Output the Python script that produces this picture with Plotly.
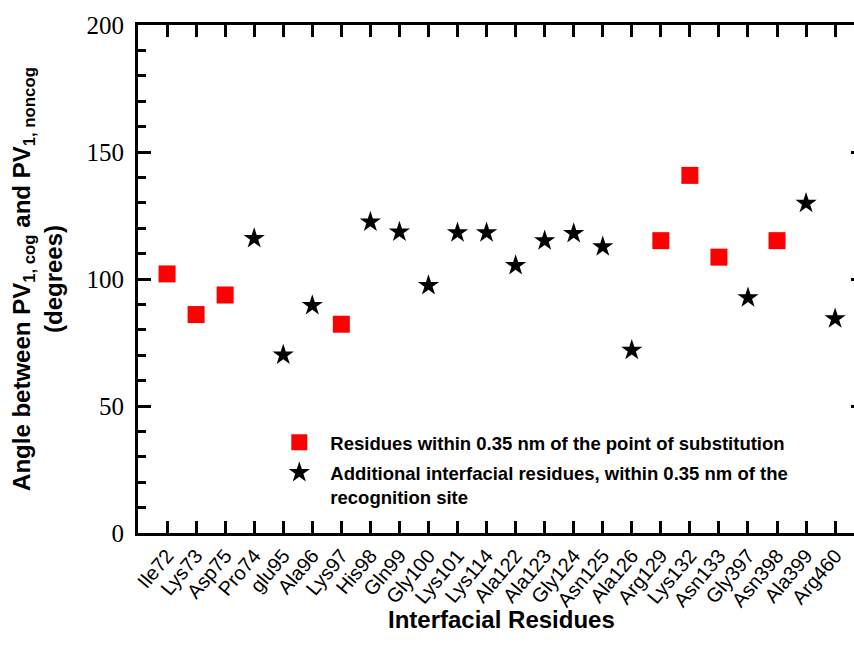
import plotly.graph_objects as go

residues = ["Ile72", "Lys73", "Asp75", "Pro74", "glu95", "Ala96", "Lys97", "His98",
            "Gln99", "Gly100", "Lys101", "Lys114", "Ala122", "Ala123", "Gly124",
            "Asn125", "Ala126", "Arg129", "Lys132", "Asn133", "Gly397", "Asn398",
            "Ala399", "Arg460"]
angles = [102.0, 86.0, 93.7, 116.0, 70.1, 89.6, 82.2, 122.5,
          118.5, 97.5, 118.2, 118.2, 105.3, 115.1, 117.9,
          112.7, 72.0, 115.1, 140.8, 108.6, 92.6, 115.1,
          129.8, 84.4]
# 1 = within 0.35 nm of point of substitution, 0 = additional interfacial residue
substitution_site = [1, 1, 1, 0, 0, 0, 1, 0,
                     0, 0, 0, 0, 0, 0, 0,
                     0, 0, 1, 1, 1, 0, 1,
                     0, 0]

name_sub = "Residues within 0.35 nm of the point of substitution"
name_add = "Additional interfacial residues, within 0.35 nm of the<br>recognition site"

y_ticks = [0, 50, 100, 150, 200]

xs_sub = [r for r, s in zip(residues, substitution_site) if s == 1]
ys_sub = [a for a, s in zip(angles, substitution_site) if s == 1]
xs_add = [r for r, s in zip(residues, substitution_site) if s == 0]
ys_add = [a for a, s in zip(angles, substitution_site) if s == 0]

fig = go.Figure()
fig.add_trace(go.Scatter(
    x=xs_sub, y=ys_sub, mode="markers", name=name_sub, legendgroup="sub",
    marker=dict(symbol="square", size=17, color="#FF0000", line=dict(width=0)),
))
fig.add_trace(go.Scatter(
    x=xs_add, y=ys_add, mode="markers", name=name_add, legendgroup="add",
    marker=dict(symbol="star", size=16, color="black", line=dict(width=0)),
))
# invisible trace for right-side tick remnants
fig.add_trace(go.Scatter(x=[residues[0]], y=[None], yaxis="y2", showlegend=False,
                         hoverinfo="skip", mode="markers"))

fig.update_layout(
    width=854, height=656,
    margin=dict(l=138, r=0, t=25, b=123),
    paper_bgcolor="white", plot_bgcolor="white",
    font=dict(family="Liberation Sans, Arial", color="black"),
    xaxis=dict(
        type="category", categoryorder="array", categoryarray=residues,
        range=[-1, 23.65], showgrid=False, zeroline=False,
        showline=True, linewidth=3, linecolor="black", mirror="ticks",
        ticks="inside", ticklen=12, tickwidth=3, tickcolor="black",
        tickangle=-50, tickfont=dict(family="Liberation Sans, Arial", size=20),
    ),
    yaxis=dict(
        range=[0, 200], tickvals=y_ticks, showgrid=False, zeroline=False,
        showline=True, linewidth=3, linecolor="black",
        ticks="inside", ticklen=13, tickwidth=3, tickcolor="black",
        minor=dict(ticks="inside", ticklen=8, tickwidth=3, dtick=10, tickcolor="black", showgrid=False),
        tickfont=dict(family="Liberation Serif, Times New Roman", size=25),
        ticklabelstandoff=6,
        title=dict(
            text="Angle between PV<sub>1, cog</sub> and PV<sub>1, noncog</sub><br>(degrees)",
            font=dict(family="Liberation Sans, Arial", size=24, weight="bold"),
            standoff=18,
        ),
    ),
    yaxis2=dict(
        overlaying="y", side="right", range=[0, 200], tickvals=[50, 100, 150],
        showticklabels=False, showgrid=False, zeroline=False, showline=False,
        ticks="inside", ticklen=3, tickwidth=3, tickcolor="black",
    ),
    legend=dict(
        x=0.182, y=0.215, xanchor="left", yanchor="top", valign="top",
        bgcolor="rgba(0,0,0,0)", borderwidth=0, itemwidth=52, tracegroupgap=3,
        font=dict(family="Liberation Sans, Arial", size=18.5, weight="bold"),
    ),
    annotations=[dict(
        text="Interfacial Residues", xref="paper", yref="paper",
        x=0.507, y=-0.17, yanchor="middle", xanchor="center", showarrow=False,
        font=dict(family="Liberation Sans, Arial", size=24, weight="bold"),
    )],
)

fig.write_html("out.html")
